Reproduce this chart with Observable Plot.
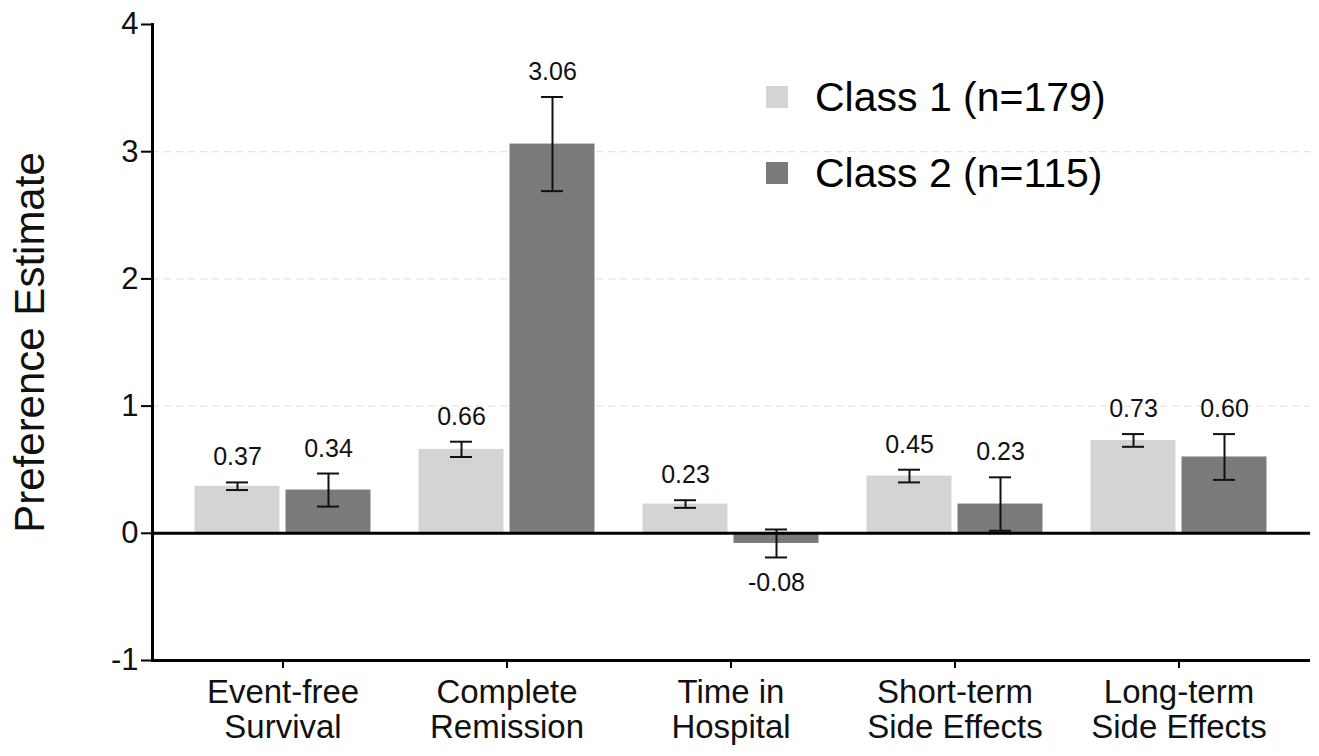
<!DOCTYPE html>
<html>
<head>
<meta charset="utf-8">
<script src="https://cdn.jsdelivr.net/npm/d3@7"></script>
<script src="https://cdn.jsdelivr.net/npm/@observablehq/plot@0.6"></script>
<style>
  html, body { margin: 0; padding: 0; background: #fff; }
  #wrap { position: relative; width: 1319px; height: 756px; font-family: "Liberation Sans", Arial, sans-serif; }
  #wrap svg { position: absolute; left: 0; top: 0; }
  .legend { position: absolute; left: 766px; top: 72px; }
  .legend .row { display: flex; align-items: center; height: 50px; margin-bottom: 26px; }
  .legend .sw { width: 22px; height: 22px; margin-right: 27px; }
  .legend .lb { font-size: 41px; color: #000; line-height: 50px; }
</style>
</head>
<body>
<div id="wrap"></div>
<script>
const categories = ["Event-free Survival", "Complete Remission", "Time in Hospital", "Short-term Side Effects", "Long-term Side Effects"];
const tickLabels = ["Event-free\nSurvival", "Complete\nRemission", "Time in\nHospital", "Short-term\nSide Effects", "Long-term\nSide Effects"];
const classes = ["Class 1 (n=179)", "Class 2 (n=115)"];
const class1Values = [0.37, 0.66, 0.23, 0.45, 0.73];
const class2Values = [0.34, 3.06, -0.08, 0.23, 0.60];
const class1Errors = [0.03, 0.06, 0.03, 0.05, 0.05];
const class2Errors = [0.13, 0.37, 0.11, 0.21, 0.18];
const yTicks = [-1, 0, 1, 2, 3, 4];
const gridValues = [1, 2, 3];
const classColors = ["#d4d4d4", "#7a7a7a"];

const seriesValues = [class1Values, class2Values];
const seriesErrors = [class1Errors, class2Errors];

const rows = classes.map((cls, k) => categories.map((c, i) => ({
  category: c,
  cls,
  value: seriesValues[k][i],
  lo: seriesValues[k][i] - seriesErrors[k][i],
  hi: seriesValues[k][i] + seriesErrors[k][i]
})));

const bandwidth = 192;
const barW = 86, gap = 5, capW = 23;
const outer = (bandwidth - 2 * barW - gap) / 2;
const offsets = [-(gap / 2 + barW / 2), gap / 2 + barW / 2];

const marks = [
  Plot.ruleY(gridValues, {stroke: "#dcdcdc", strokeWidth: 1, strokeDasharray: "7,5"})
];
rows.forEach((data, k) => {
  const insetLeft = k === 0 ? outer : outer + barW + gap;
  const insetRight = k === 0 ? outer + barW + gap : outer;
  marks.push(Plot.barY(data, {x: "category", y: "value", fill: classColors[k], insetLeft, insetRight}));
});
rows.forEach((data, k) => {
  const capInset = (bandwidth - capW) / 2;
  marks.push(Plot.ruleX(data, {x: "category", y1: "lo", y2: "hi", dx: offsets[k], stroke: "#111", strokeWidth: 2}));
  marks.push(Plot.tickY(data, {x: "category", y: "hi", dx: offsets[k], insetLeft: capInset, insetRight: capInset, stroke: "#111", strokeWidth: 2}));
  marks.push(Plot.tickY(data, {x: "category", y: "lo", dx: offsets[k], insetLeft: capInset, insetRight: capInset, stroke: "#111", strokeWidth: 2}));
  marks.push(Plot.text(data.filter(d => d.value >= 0), {x: "category", y: "hi", dx: offsets[k], dy: -25, text: d => d.value.toFixed(2), fontSize: 25, fill: "#111"}));
  marks.push(Plot.text(data.filter(d => d.value < 0), {x: "category", y: "lo", dx: offsets[k], dy: 26, text: d => d.value.toFixed(2), fontSize: 25, fill: "#111"}));
});
marks.push(Plot.ruleY([0], {stroke: "#000", strokeWidth: 3}));
marks.push(Plot.ruleY([-1], {stroke: "#000", strokeWidth: 3}));
marks.push(Plot.frame({anchor: "left", stroke: "#000", strokeWidth: 3}));
marks.push(Plot.axisY({ticks: yTicks, tickSize: 11, tickPadding: 3, tickFormat: d => String(d), fontSize: 31, label: null, stroke: "#000", strokeWidth: 2}));
marks.push(Plot.axisX({tickSize: 8, tickPadding: 9, tickFormat: d => tickLabels[categories.indexOf(d)], fontSize: 33, lineHeight: 1.08, label: null, stroke: "#000", strokeWidth: 2}));
marks.push(Plot.text(["Preference Estimate"], {frameAnchor: "left", rotate: -90, dx: -122, fontSize: 42, textAnchor: "middle", fill: "#111"}));

const chart = Plot.plot({
  width: 1319,
  height: 756,
  marginLeft: 152,
  marginRight: 9,
  marginTop: 24,
  marginBottom: 96,
  style: {fontFamily: "'Liberation Sans', Arial, sans-serif", background: "#fff", color: "#111", overflow: "visible"},
  x: {domain: categories, padding: 0.147, label: null},
  y: {domain: [-1, 4], label: null},
  marks
});

const wrap = document.getElementById("wrap");
wrap.appendChild(chart);

const legend = document.createElement("div");
legend.className = "legend";
classes.forEach((c, k) => {
  const row = document.createElement("div");
  row.className = "row";
  const sw = document.createElement("div");
  sw.className = "sw";
  sw.style.background = classColors[k];
  const lb = document.createElement("div");
  lb.className = "lb";
  lb.textContent = c;
  row.appendChild(sw);
  row.appendChild(lb);
  legend.appendChild(row);
});
wrap.appendChild(legend);
</script>
</body>
</html>
